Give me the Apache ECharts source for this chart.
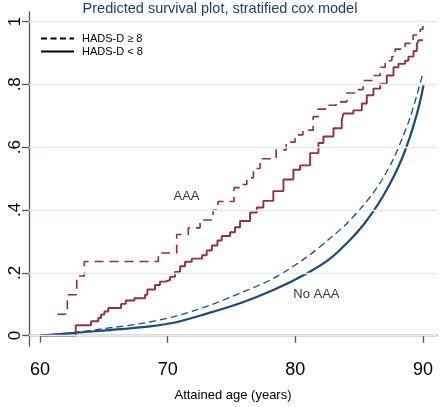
<!DOCTYPE html>
<html>
<head>
<meta charset="utf-8">
<script src="https://cdn.jsdelivr.net/npm/echarts@6/dist/echarts.min.js"></script>
<style>html,body{margin:0;padding:0;background:#fff;}#chart{width:440px;height:407px;}</style>
</head>
<body>
<div id="chart"></div>
<script>
// ---- data ----
const titleText = 'Predicted survival plot, stratified cox model';
const xAxisTitle = 'Attained age (years)';
const xTickValues = [60, 70, 80, 90];
const yTickValues = [0, 0.2, 0.4, 0.6, 0.8, 1];
const yTickLabels = ['0', '.2', '.4', '.6', '.8', '1'];
const legendNames = ['HADS-D \u2265 8', 'HADS-D < 8'];

// AAA, HADS-D >= 8 (step)
const aaaHighAge = [61.36, 62.14, 62.88, 63.47, 69.27, 70.71, 71.62, 72.54, 73.56, 73.95, 75.2, 75.8, 76.2, 76.72, 77.24, 78.5, 79.28, 79.98, 80.6, 81.4, 81.79, 82.5, 83.2, 84.04, 84.69, 85.31, 86.0, 86.65, 87.04, 87.56, 87.82, 88.6, 89.23, 89.78, 90.0];
const aaaHighVal = [0.068, 0.13, 0.19, 0.236, 0.263, 0.322, 0.343, 0.368, 0.40, 0.427, 0.471, 0.481, 0.502, 0.532, 0.563, 0.591, 0.616, 0.639, 0.654, 0.697, 0.721, 0.733, 0.744, 0.772, 0.783, 0.812, 0.828, 0.854, 0.875, 0.888, 0.912, 0.93, 0.957, 0.975, 0.99];

// AAA, HADS-D < 8 (step)
const aaaLowAge = [60.24, 62.8, 64.0, 64.57, 64.78, 65.04, 65.35, 66.35, 66.72, 67.39, 68.23, 68.41, 69.01, 69.4, 69.8, 70.19, 70.58, 70.97, 71.36, 71.89, 72.7, 73.06, 73.46, 73.9, 74.24, 74.89, 75.28, 75.67, 76.46, 76.98, 77.5, 78.28, 79.07, 79.85, 80.38, 81.16, 81.81, 82.2, 82.99, 83.64, 83.77, 84.55, 85.21, 85.6, 86.12, 86.65, 87.17, 87.69, 88.08, 88.6, 88.86, 89.26, 89.52, 89.65, 89.99];
const aaaLowVal = [0, 0.033, 0.046, 0.056, 0.067, 0.077, 0.088, 0.101, 0.112, 0.119, 0.13, 0.147, 0.161, 0.172, 0.177, 0.187, 0.203, 0.221, 0.235, 0.245, 0.256, 0.271, 0.287, 0.303, 0.317, 0.329, 0.345, 0.365, 0.392, 0.408, 0.429, 0.46, 0.497, 0.528, 0.542, 0.581, 0.613, 0.634, 0.66, 0.686, 0.707, 0.717, 0.739, 0.765, 0.786, 0.802, 0.828, 0.854, 0.865, 0.875, 0.888, 0.906, 0.928, 0.94, 0.94];

// No AAA, HADS-D >= 8
const noHighAge = [60.0, 62.74, 64.94, 67.84, 70.45, 73.06, 75.67, 78.28, 80.9, 82.73, 84.04, 85.34, 86.12, 86.9, 87.69, 88.35, 89.0, 89.52, 90.0];
const noHighVal = [0.0, 0.01, 0.022, 0.038, 0.06, 0.093, 0.135, 0.182, 0.25, 0.31, 0.357, 0.415, 0.455, 0.503, 0.563, 0.625, 0.695, 0.765, 0.835];

// No AAA, HADS-D < 8
const noLowAge = [60.0, 62.74, 67.84, 70.45, 73.06, 75.67, 78.28, 80.9, 82.73, 84.3, 85.34, 86.12, 86.9, 87.69, 88.35, 89.0, 89.52, 89.84, 90.04];
const noLowVal = [0.0, 0.009, 0.026, 0.041, 0.07, 0.103, 0.145, 0.198, 0.245, 0.305, 0.353, 0.396, 0.446, 0.505, 0.563, 0.635, 0.705, 0.757, 0.797];

// annotations
const annotLabels = ['AAA', 'No AAA'];
const annotAge = [71.48, 81.65];
const annotVal = [0.4425, 0.1307];

// ---- chart ----
const zip = (a, b) => a.map((v, i) => [v, b[i]]);
const RED = '#95303a';
const BLUE = '#1c4a7c';
const FONT = 'Liberation Sans, Arial, sans-serif';

const chart = echarts.init(document.getElementById('chart'), null, {renderer: 'canvas'});
chart.setOption({
  animation: false,
  backgroundColor: '#fff',
  title: {
    text: titleText, left: 'center', top: 1, padding: 0,
    textStyle: {fontFamily: FONT, fontSize: 14.5, fontWeight: 'normal', color: '#1f3b6f'}
  },
  legend: {
    data: legendNames, orient: 'vertical', left: 40, top: 33, padding: 0,
    itemWidth: 33, itemHeight: 12, itemGap: 2,
    itemStyle: {opacity: 0},
    textStyle: {fontFamily: FONT, fontSize: 11, color: '#000', padding: [0, 0, 0, 3]},
    selectedMode: false
  },
  grid: {left: 29, right: 3, top: 12, bottom: 57, containLabel: false},
  xAxis: {
    type: 'value', min: 59.14, max: 91.1,
    name: xAxisTitle, nameLocation: 'middle', nameGap: 43,
    nameTextStyle: {fontFamily: FONT, fontSize: 13, color: '#000'},
    axisLine: {show: true, lineStyle: {color: '#555', width: 1.3}},
    axisTick: {show: true, length: 7, customValues: xTickValues, lineStyle: {color: '#555', width: 1.3}},
    axisLabel: {customValues: xTickValues, margin: 15, fontFamily: FONT, fontSize: 18, color: '#000'},
    splitLine: {show: false}
  },
  yAxis: {
    type: 'value', min: -0.033, max: 1.03,
    axisLine: {show: true, lineStyle: {color: '#555', width: 1.3}},
    axisTick: {show: true, length: 7, customValues: yTickValues, lineStyle: {color: '#555', width: 1.3}},
    axisLabel: {
      customValues: yTickValues, rotate: 90, margin: 5,
      fontFamily: FONT, fontSize: 17, color: '#000',
      formatter: (v) => {
        const i = yTickValues.findIndex(t => Math.abs(t - v) < 1e-6);
        return i >= 0 ? yTickLabels[i] : '';
      }
    },
    splitLine: {show: false}
  },
  series: [
    {
      name: 'grid', type: 'line', data: [[60, 0]], z: 1, silent: true,
      symbol: 'none', lineStyle: {opacity: 0},
      markLine: {
        silent: true, symbol: 'none', label: {show: false}, animation: false,
        lineStyle: {color: '#e2eaf2', width: 1.3, type: 'solid'},
        data: yTickValues.map(v => ({yAxis: v}))
      }
    },
    {
      name: legendNames[0], type: 'line', data: [], symbol: 'none',
      color: '#000', lineStyle: {color: '#000', width: 1.4, type: [6, 3.5]}
    },
    {
      name: legendNames[1], type: 'line', data: [], symbol: 'none',
      color: '#000', lineStyle: {color: '#000', width: 1.4, type: 'solid'}
    },
    {
      name: 'No AAA, HADS-D \u2265 8', type: 'line', z: 3, symbol: 'none', smooth: 0.3,
      data: zip(noHighAge, noHighVal),
      lineStyle: {color: BLUE, width: 1.3, type: [7, 4]}
    },
    {
      name: 'No AAA, HADS-D < 8', type: 'line', z: 4, symbol: 'none', smooth: 0.3,
      data: zip(noLowAge, noLowVal),
      lineStyle: {color: BLUE, width: 2.2, type: 'solid'}
    },
    {
      name: 'AAA, HADS-D \u2265 8', type: 'line', z: 3, symbol: 'none', step: 'end',
      data: zip(aaaHighAge, aaaHighVal),
      lineStyle: {color: RED, width: 1.6, type: [9, 6]}
    },
    {
      name: 'AAA, HADS-D < 8', type: 'line', z: 4, symbol: 'none', step: 'end',
      data: zip(aaaLowAge, aaaLowVal),
      lineStyle: {color: RED, width: 1.9, type: 'solid'}
    },
    {
      name: 'annotations', type: 'scatter', z: 5, silent: true,
      symbolSize: 1, itemStyle: {color: 'transparent'},
      data: annotLabels.map((t, i) => ({name: t, value: [annotAge[i], annotVal[i]]})),
      label: {
        show: true, position: 'inside', formatter: '{b}',
        fontFamily: FONT, fontSize: 13, color: '#000'
      }
    }
  ]
});
</script>
</body>
</html>
